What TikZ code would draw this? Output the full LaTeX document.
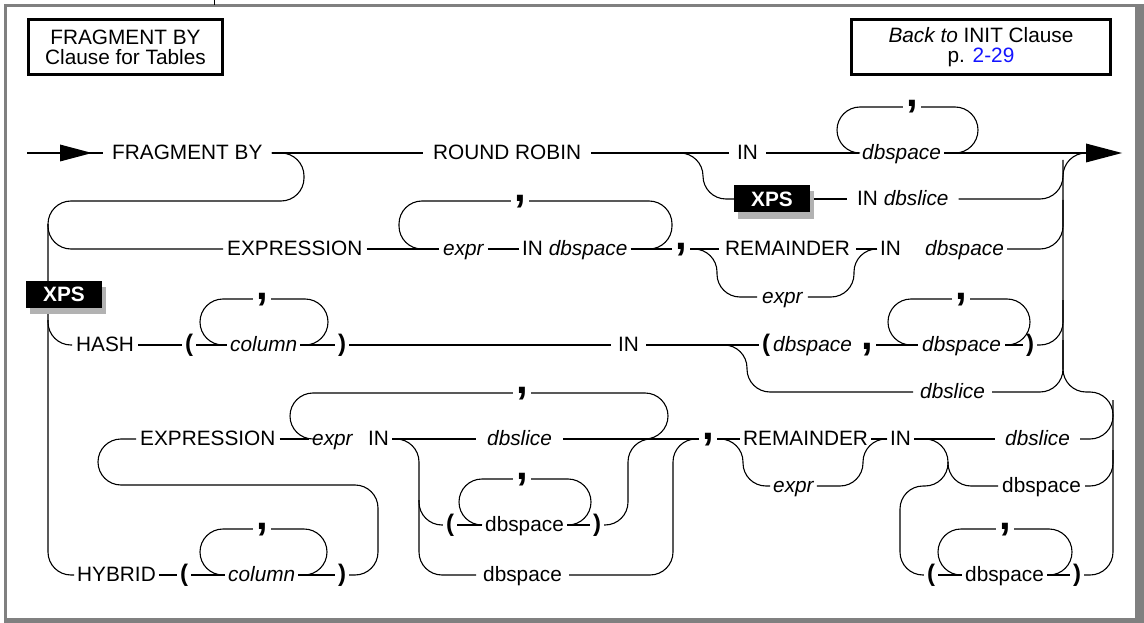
\documentclass[tikz,border=0pt]{standalone}
\usepackage{fontspec}
\setmainfont{Liberation Sans}
\usetikzlibrary{shadows}
\pgfdeclarelayer{bg}
\pgfsetlayers{bg,main}
\definecolor{framegray}{RGB}{128,128,128}
\definecolor{shadowgray}{RGB}{178,178,178}
\definecolor{linkblue}{RGB}{20,20,255}

\begin{document}
\begin{tikzpicture}[x=1pt,y=-1pt,
  kw/.style={font=\fontsize{20.8}{24}\selectfont, text height=16pt, text depth=3.5pt,
             inner xsep=#1, inner ysep=0pt, anchor=west},
  kw/.default=5pt,
  var/.style={kw=#1, font=\fontsize{20.8}{24}\selectfont\itshape},
  var/.default=5pt,
  paren/.style={font=\fontsize{24}{28}\selectfont\bfseries, text height=17pt, text depth=4.5pt,
              inner xsep=3pt, inner ysep=0pt},
  sepcomma/.style={font=\fontsize{42}{42}\selectfont\bfseries, text height=5pt, text depth=5pt,
             inner xsep=3pt, inner ysep=0pt, fill=white},
  xps/.style={fill=black, text=white, font=\fontsize{20.8}{24}\selectfont\bfseries,
              minimum width=76pt, minimum height=27pt, inner sep=0pt,
              drop shadow={shadow xshift=4pt, shadow yshift=-6pt, fill=shadowgray, opacity=1}},
  titlebox/.style={draw, line width=3pt, align=center, font=\fontsize{20.8}{20}\selectfont,
                inner sep=0pt, minimum height=55pt},
  ln/.style={line width=1.1pt, rounded corners=23pt},
]
\useasboundingbox (0,0) rectangle (1144,623);

% page frame
\fill[framegray] (4,4) rectangle (1144,7);
\fill[framegray] (4,4) rectangle (7,623);
\fill[framegray] (1135,4) rectangle (1144,623);
\fill[framegray] (4,618) rectangle (1144,623);
\draw[line width=1pt] (214,0) -- (214,5);

% header boxes
\node[titlebox, minimum width=194pt] (t1) at (125.5,47) {FRAGMENT BY\\Clause for Tables};
\node[titlebox, minimum width=259pt] (t2) at (981,47) {\textit{Back to} INIT Clause\\p. \textcolor{linkblue}{2-29}};

% ---- row: ROUND ROBIN ----
\coordinate (start) at (27,153);
\coordinate (endA) at (1086,153);
\node[kw=9pt] (fb) at (103,153) {FRAGMENT BY};
\node[kw=10pt] (rr) at (423,153) {ROUND ROBIN};
\node[kw=8pt] (in1) at (729,153) {IN};
\node[var=3pt] (ds1) at (859,153) {dbspace};

\node[xps] (xpsB) at (772,199) {XPS};
\node[kw=10pt] (inB) at (847,199) {IN \textit{dbslice}};

% ---- row: EXPRESSION ----
\node[kw=4pt] (ex1) at (223,249) {EXPRESSION};
\node[var=4pt] (xp1) at (439,249) {expr};
\node[kw=3pt] (ind1) at (519,249) {IN \textit{dbspace}};
\node[sepcomma] (cm1) at (681,249) {,};
\node[kw=6pt] (rem1) at (719,249) {REMAINDER};
\node[kw=3pt] (in3) at (877,249) {IN};
\node[var=3pt] (ds3) at (922,249) {dbspace};
\node[var=5pt] (xp2) at (757,297) {expr};

% ---- row: HASH ----
\node[kw=4pt] (hash) at (72,345) {HASH};
\node[paren] (p1) at (189,345) {(};
\node[var=3pt] (col1) at (227,345) {column};
\node[paren] (p2) at (342,345) {)};
\node[kw=7pt] (in2) at (611,345) {IN};
\node[paren] (p3) at (766,345) {(};
\node[var=0pt] (ds2a) at (773,345) {dbspace};
\node[sepcomma, text height=9pt, text depth=1pt] (cm2) at (867,345) {,};
\node[var=4pt] (ds2b) at (918,345) {dbspace};
\node[paren] (p4) at (1030,345) {)};
\node[var=7pt] (dsE) at (913,392) {dbslice};

% ---- row: HYBRID ----
\node[kw=4pt] (ex2) at (136,439) {EXPRESSION};
\node[var=3pt] (xp3) at (309,439) {expr};
\node[kw=3pt] (in4) at (365,439) {IN};
\node[var=11pt] (dsF) at (476,439) {dbslice};
\node[sepcomma] (cm3) at (708,439) {,};
\node[kw=3pt] (rem2) at (740,439) {REMAINDER};
\node[kw=3pt] (in5) at (887,439) {IN};
\node[var=10pt] (dsF2) at (995,439) {dbslice};
\node[var=3pt] (xp4) at (770,486) {expr};
\node[kw=4pt] (dsG) at (998,486) {dbspace};
\node[paren] (p7) at (450,525) {(};
\node[kw=3pt] (ds7) at (482,525) {dbspace};
\node[paren] (p8) at (597,525) {)};
\node[kw=3pt] (hyb) at (74,575) {HYBRID};
\node[paren] (p5) at (184,575) {(};
\node[var=3pt] (col2) at (225,575) {column};
\node[paren] (p6) at (342,575) {)};
\node[kw=7pt] (ds8) at (476,575) {dbspace};
\node[paren] (p9) at (931,575) {(};
\node[kw=3pt] (ds10) at (962,575) {dbspace};
\node[paren] (p10) at (1077,575) {)};

\node[xps] (xpsL) at (64,294) {XPS};

\coordinate (lrC) at (48,224);
\coordinate (lrD) at (48,320);
\coordinate (brF) at (419,500);
\coordinate (brG) at (948,462);

\begin{pgfonlayer}{bg}
% main line and arrowheads
\draw[ln] (start) -- (fb.west);
\draw[ln] (fb.east) -- (rr.west);
\draw[ln] (rr.east) -- (in1.west);
\draw[ln] (in1.east) -- (ds1.west);
\draw[ln] (ds1.east) -- (endA);
\fill (60,144.5) -- (92,153) -- (60,161.5) -- cycle;
\fill (1086,143.5) -- (1122,153) -- (1086,162.5) -- cycle;
\draw[ln] (860,153) -- (837,153) -- (837,107) -- (978,107) -- (978,153) -- (955,153);

% XPS branch
\draw[ln] (rr.east) -- (703,153) -- (703,199) -- (xpsB.west);
\draw[ln] (xpsB.east) -- (inB.west);
\draw[ln] (inB.east) -- (1063,199) -- (1063,160);

% left rail
\draw[ln] (fb.east) -- (304,153) -- (304,201) -- (48,201) -- (48,575) -- (hyb.west);
\draw[ln] (lrC) -- (48,249) -- (ex1.west);
\draw[ln] (lrD) -- (48,345) -- (hash.west);

% EXPRESSION row
\draw[ln] (ex1.east) -- (xp1.west);
\draw[ln] (xp1.east) -- (ind1.west);
\draw[ln] (ind1.east) -- (cm1.west);
\draw[ln] (422,249) -- (399,249) -- (399,201) -- (672,201) -- (672,249) -- (649,249);
\draw[ln] (cm1.east) -- (rem1.west);
\draw[ln] (cm1.east) -- (717,249) -- (717,297) -- (xp2.west);
\draw[ln] (rem1.east) -- (in3.west);
\draw[ln] (xp2.east) -- (854,297) -- (854,249) -- (in3.west);
\draw[ln] (ds3.east) -- (1063,249) -- (1063,200);

% HASH row
\draw[ln] (hash.east) -- (p1.west);
\draw[ln] (p1.east) -- (col1.west);
\draw[ln] (col1.east) -- (p2.west);
\draw[ln] (223,345) -- (200,345) -- (200,299) -- (328,299) -- (328,345) -- (305,345);
\draw[ln] (p2.east) -- (in2.west);
\draw[ln] (in2.east) -- (p3.west);
\draw[ln] (in2.east) -- (747,345) -- (747,392) -- (dsE.west);
\draw[ln] (cm2.east) -- (ds2b.west);
\draw[ln] (911,345) -- (888,345) -- (888,299) -- (1030,299) -- (1030,345) -- (1007,345);
\draw[ln] (ds2b.east) -- (p4.west);
\draw[ln] (p4.east) -- (1063,345) -- (1063,300);
\draw[ln] (dsE.east) -- (1063,392) -- (1063,153) -- (endA);

% HYBRID row
\draw[ln] (hyb.east) -- (p5.west);
\draw[ln] (p5.east) -- (col2.west);
\draw[ln] (col2.east) -- (p6.west);
\draw[ln] (223,575) -- (200,575) -- (200,529) -- (327,529) -- (327,575) -- (304,575);
\draw[ln] (p6.east) -- (378,575) -- (378,485) -- (98,485) -- (98,439) -- (ex2.west);
\draw[ln] (ex2.east) -- (xp3.west);
\draw[ln] (313,439) -- (290,439) -- (290,393) -- (668,393) -- (668,439) -- (645,439);
\draw[ln] (in4.east) -- (dsF.west);
\draw[ln] (dsF.east) -- (cm3.west);
\draw[ln] (in4.east) -- (419,439) -- (419,525) -- (p7.west);
\draw[ln] (brF) -- (419,575) -- (ds8.west);
\draw[ln] (p7.east) -- (ds7.west);
\draw[ln] (482,525) -- (459,525) -- (459,479) -- (591,479) -- (591,525) -- (568,525);
\draw[ln] (ds7.east) -- (p8.west);
\draw[ln] (p8.east) -- (628,525) -- (628,439) -- (cm3.west);
\draw[ln] (ds8.east) -- (673,575) -- (673,439) -- (cm3.west);
\draw[ln] (cm3.east) -- (rem2.west);
\draw[ln] (cm3.east) -- (743,439) -- (743,486) -- (xp4.west);
\draw[ln] (rem2.east) -- (in5.west);
\draw[ln] (xp4.east) -- (863,486) -- (863,439) -- (in5.west);
\draw[ln] (in5.east) -- (dsF2.west);
\draw[ln] (in5.east) -- (948,439) -- (948,486) -- (dsG.west);
\draw[ln] (brG) -- (948,486) -- (900,486) -- (900,575) -- (p9.west);
\draw[ln] (p9.east) -- (ds10.west);
\draw[ln] (961,575) -- (938,575) -- (938,529) -- (1072,529) -- (1072,575) -- (1049,575);
\draw[ln] (ds10.east) -- (p10.west);
\draw[ln] (p10.east) -- (1113,575) -- (1113,392) -- (1063,392) -- (1063,340);
\draw[ln] (dsF2.east) -- (1113,439) -- (1113,400);
\draw[ln] (dsG.east) -- (1113,486) -- (1113,450);
\end{pgfonlayer}

% separators on the repeat loops
\node[sepcomma] (c1) at (912,107) {,};
\node[sepcomma] (c2) at (520,201) {,};
\node[sepcomma] (c3) at (262,299) {,};
\node[sepcomma] (c4) at (961,299) {,};
\node[sepcomma] (c5) at (522,393) {,};
\node[sepcomma] (c6) at (522,479) {,};
\node[sepcomma] (c7) at (1005,529) {,};
\node[sepcomma] (c8) at (262,529) {,};
\end{tikzpicture}
\end{document}
